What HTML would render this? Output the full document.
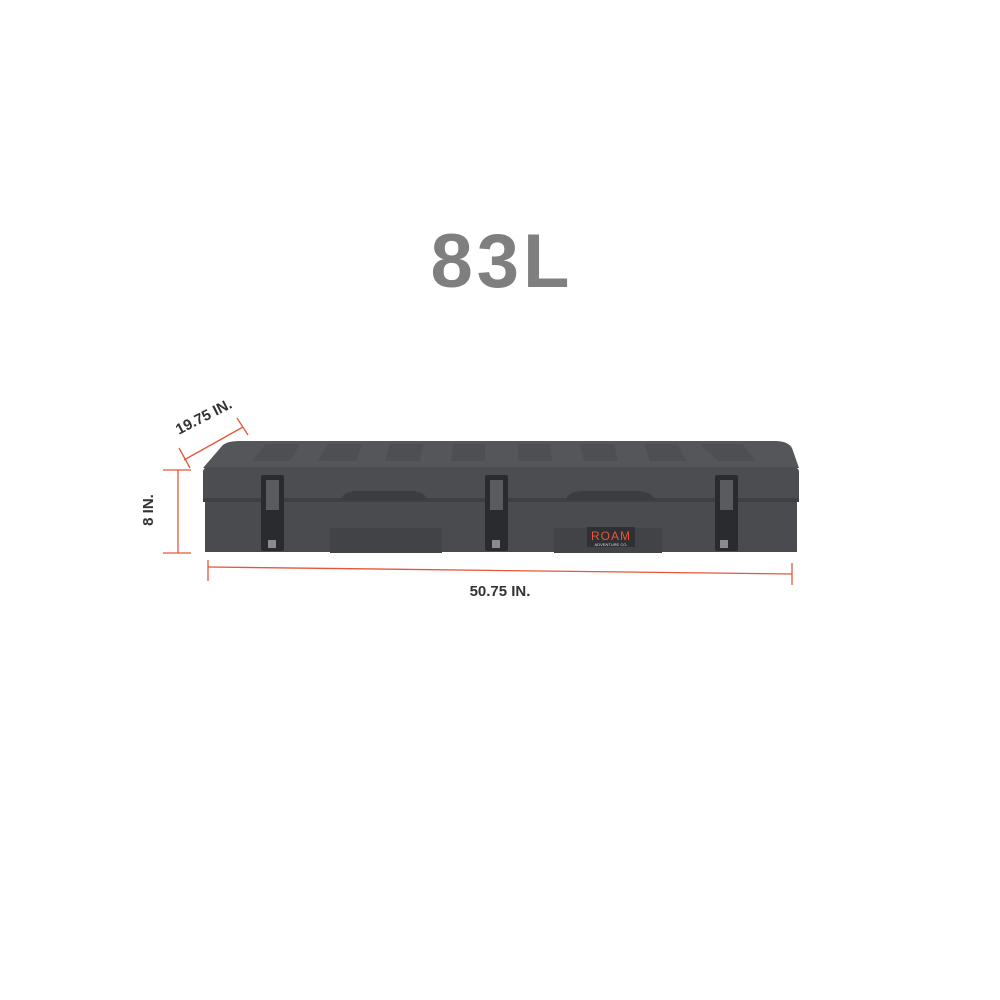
<!DOCTYPE html>
<html><head><style>
html,body{margin:0;padding:0;background:#fff;}
svg{display:block;}
</style></head><body>
<svg width="1000" height="1000" viewBox="0 0 1000 1000" xmlns="http://www.w3.org/2000/svg">
<rect width="1000" height="1000" fill="#fff"/>
<text x="502" y="287" text-anchor="middle" font-family="Liberation Sans, sans-serif" font-weight="bold" font-size="76" letter-spacing="4" fill="#7f7f7f">83L</text>

<path d="M222,446 Q226,441 240,441 L775,441 Q788,441 792,448 L799,468 L203,468 Z" fill="#55565a"/>
<g fill="#4e4f53">
<path d="M252,461 L290,461 L300,444 L266,444 Z"/>
<path d="M318,461 L356,461 L362,444 L328,444 Z"/>
<path d="M385,461 L420,461 L423,444 L390,444 Z"/>
<path d="M451,461 L485,461 L485,444 L453,444 Z"/>
<path d="M518,461 L552,461 L550,444 L518,444 Z"/>
<path d="M584,461 L618,461 L614,444 L580,444 Z"/>
<path d="M650,461 L686,461 L678,444 L644,444 Z"/>
<path d="M718,461 L756,461 L742,444 L700,444 Z"/>
</g>
<path d="M203,472 Q203,467 210,467 L792,467 Q799,467 799,472 L799,500 L203,500 Z" fill="#4c4d51"/>
<rect x="203" y="498" width="596" height="4" fill="#3f4044"/>
<rect x="205" y="502" width="592" height="50" fill="#4a4b4f"/>
<g fill="#424347">
<rect x="330" y="528" width="112" height="25"/>
<rect x="554" y="528" width="108" height="25"/>
</g>
<path d="M340,500 Q344,491 358,491 L410,491 Q424,491 428,500 Z" fill="#3c3d41"/>
<path d="M565,500 Q569,491 583,491 L637,491 Q651,491 655,500 Z" fill="#3c3d41"/>
<g fill="#2a2b2e">
<rect x="261" y="475" width="23" height="76" rx="2"/>
<rect x="485" y="475" width="23" height="76" rx="2"/>
<rect x="715" y="475" width="23" height="76" rx="2"/>
</g>
<g fill="#5a5b5f">
<rect x="266" y="480" width="13" height="30"/>
<rect x="490" y="480" width="13" height="30"/>
<rect x="720" y="480" width="13" height="30"/>
</g>
<g fill="#8a8b8e">
<rect x="268" y="540" width="8" height="8"/>
<rect x="492" y="540" width="8" height="8"/>
<rect x="720" y="540" width="8" height="8"/>
</g>
<rect x="587" y="527" width="48" height="20" fill="#2f3033"/>
<text x="611" y="540" text-anchor="middle" font-family="Liberation Sans, sans-serif" font-size="12" fill="#e8553a" letter-spacing="1">ROAM</text>
<text x="611" y="546" text-anchor="middle" font-family="Liberation Sans, sans-serif" font-size="4" fill="#ddd">ADVENTURE CO.</text>

<g stroke="#e8553a" stroke-width="1.3" fill="none">
<line x1="178" y1="470" x2="178" y2="553"/>
<line x1="163" y1="470" x2="191" y2="470"/>
<line x1="163" y1="553" x2="191" y2="553"/>
<line x1="184" y1="460" x2="243" y2="427"/>
<line x1="179" y1="448" x2="190" y2="468"/>
<line x1="237" y1="418" x2="248" y2="435"/>
<line x1="208" y1="567" x2="792" y2="574"/>
<line x1="208" y1="560" x2="208" y2="581"/>
<line x1="792" y1="563" x2="792" y2="585"/>
</g>
<text x="500" y="596" text-anchor="middle" font-family="Liberation Sans, sans-serif" font-weight="bold" font-size="15" fill="#333">50.75 IN.</text>
<text transform="translate(153,510) rotate(-90)" text-anchor="middle" font-family="Liberation Sans, sans-serif" font-weight="bold" font-size="15" fill="#333">8 IN.</text>
<text transform="translate(206,421) rotate(-27)" text-anchor="middle" font-family="Liberation Sans, sans-serif" font-weight="bold" font-size="15" fill="#333">19.75 IN.</text>
</svg>
</body></html>
